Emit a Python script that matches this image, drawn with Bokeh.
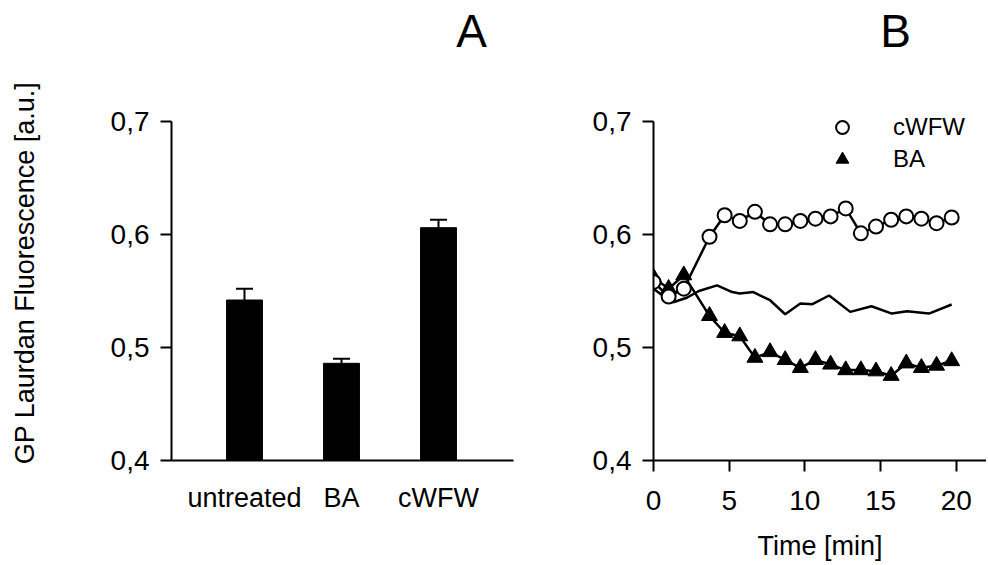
import numpy as np
from bokeh.plotting import figure
from bokeh.models import (Range1d, FixedTicker, Legend, LegendItem, Whisker,
                          ColumnDataSource, TeeHead, LinearAxis)
from bokeh.layouts import row
from bokeh.embed import file_html
from bokeh.resources import INLINE

FONT = "Liberation Sans"

# ---------------- data ----------------
# Panel A
categories = ["untreated", "BA", "cWFW"]
gp_mean = [0.542, 0.486, 0.606]
gp_err = [0.010, 0.004, 0.007]

# Panel B
time_min = [0, 1, 2, 3.7, 4.7, 5.7, 6.7, 7.7, 8.7, 9.7, 10.7, 11.7, 12.7, 13.7,
            14.7, 15.7, 16.7, 17.7, 18.7, 19.7]
gp_cwfw = [0.558, 0.545, 0.552, 0.598, 0.617, 0.612, 0.620, 0.609, 0.609, 0.612,
           0.614, 0.616, 0.623, 0.601, 0.607, 0.613, 0.616, 0.614, 0.610, 0.615]
gp_ba = [0.562, 0.552, 0.564, 0.528, 0.513, 0.510, 0.491, 0.496, 0.489, 0.482,
         0.489, 0.485, 0.480, 0.480, 0.479, 0.475, 0.486, 0.482, 0.484, 0.488]
ctrl_time = [0, 0.7, 1.3, 2.2, 3.0, 4.2, 5.2, 5.7, 6.6, 7.7, 8.7, 9.7, 10.5, 11.6,
             13.0, 14.4, 15.75, 16.75, 18.2, 19.7]
gp_ctrl = [0.552, 0.545, 0.540, 0.544, 0.550, 0.555, 0.549, 0.5477, 0.549, 0.5418,
           0.5294, 0.5389, 0.5383, 0.546, 0.5315, 0.5365, 0.530, 0.532, 0.530, 0.538]

y_ticks = [0.4, 0.5, 0.6, 0.7]
y_tick_labels = ["0,4", "0,5", "0,6", "0,7"]
x_ticks_b = [0, 5, 10, 15, 20]

# panel letters and where they sit along each panel's x axis
panel_letters = ["A", "B"]
panel_letter_pos = [3.34, 16.0]

Y_RANGE = (0.4, 0.7318)   # frame extends a bit above the 0,7 tick (axis bounded to 0.4-0.7)
TOP = 85
FRAME_H = 376
HEIGHT = 563


def style_axes(p):
    p.outline_line_color = None
    p.xgrid.visible = False
    p.ygrid.visible = False
    p.background_fill_color = "white"
    p.border_fill_color = "white"
    xa, ya = p.below[0], p.left[0]
    for ax in (xa, ya):
        ax.axis_line_width = 2
        ax.axis_line_color = "black"
        ax.major_tick_line_width = 2
        ax.major_tick_line_color = "black"
        ax.major_tick_in = 0
        ax.major_tick_out = 11
        ax.minor_tick_in = 0
        ax.minor_tick_out = 0
        ax.major_label_text_font = FONT
        ax.major_label_text_font_size = "28px"
        ax.major_label_text_color = "black"
        ax.axis_label_text_font = FONT
        ax.axis_label_text_font_style = "normal"
        ax.axis_label_text_color = "black"
    ya.ticker = FixedTicker(ticks=y_ticks)
    ya.major_label_overrides = {t: l for t, l in zip(y_ticks, y_tick_labels)}
    ya.major_label_standoff = 11
    ya.bounds = (y_ticks[0], y_ticks[-1])
    return xa, ya


def add_letter(p, letter, pos):
    ax = LinearAxis(ticker=FixedTicker(ticks=[pos]),
                    major_label_overrides={pos: letter},
                    axis_line_alpha=0, major_tick_out=0, major_tick_in=0,
                    minor_tick_out=0, minor_tick_in=0,
                    major_label_standoff=29,
                    major_label_text_font=FONT, major_label_text_font_size="46px",
                    major_label_text_color="black")
    p.add_layout(ax, "above")


# ---------------- panel A ----------------
xpos = list(range(1, len(categories) + 1))
pA = figure(width=580, height=HEIGHT, x_range=Range1d(0.2474, 3.773), y_range=Range1d(*Y_RANGE),
            output_backend="svg", toolbar_location=None,
            min_border_left=171, min_border_right=67, min_border_top=TOP,
            min_border_bottom=HEIGHT - TOP - FRAME_H)
xA, yA = style_axes(pA)
xA.ticker = FixedTicker(ticks=xpos)
xA.major_label_overrides = {x: c for x, c in zip(xpos, categories)}
xA.major_tick_out = 0
xA.major_label_text_font_size = "27px"
xA.major_label_standoff = 22
yA.axis_label = "GP Laurdan Fluorescence [a.u.]"
yA.axis_label_text_font_size = "27px"
yA.axis_label_standoff = 68
add_letter(pA, panel_letters[0], panel_letter_pos[0])

pA.vbar(x=xpos, top=gp_mean, bottom=0.4, width=0.37, fill_color="black", line_color="black")
err_src = ColumnDataSource(dict(x=xpos, lower=gp_mean,
                                upper=[m + e for m, e in zip(gp_mean, gp_err)]))
pA.add_layout(Whisker(base="x", lower="lower", upper="upper", source=err_src,
                      line_width=2, line_color="black",
                      upper_head=TeeHead(size=17, line_width=2, line_color="black"),
                      lower_head=None, level="overlay"))

# ---------------- panel B ----------------
pB = figure(width=406, height=HEIGHT, x_range=Range1d(0, 22.0), y_range=Range1d(*Y_RANGE),
            output_backend="svg", toolbar_location=None,
            min_border_left=73, min_border_right=0, min_border_top=TOP,
            min_border_bottom=HEIGHT - TOP - FRAME_H)
xB, yB = style_axes(pB)
xB.ticker = FixedTicker(ticks=x_ticks_b)
xB.major_label_standoff = 19
xB.axis_label = "Time [min]"
xB.axis_label_text_font_size = "27px"
xB.axis_label_standoff = 18
add_letter(pB, panel_letters[1], panel_letter_pos[1])

pB.line(ctrl_time, gp_ctrl, line_color="black", line_width=2.5)
pB.line(time_min, gp_ba, line_color="black", line_width=2.5)
pB.line(time_min, gp_cwfw, line_color="black", line_width=2.5)
r_t = pB.scatter(time_min, gp_ba, marker="triangle", size=16, fill_color="black",
                 line_color="black", line_width=1)
r_c = pB.scatter(time_min, gp_cwfw, marker="circle", size=14, fill_color="white",
                 line_color="black", line_width=2)

legend = Legend(items=[LegendItem(label="cWFW", renderers=[r_c]),
                       LegendItem(label="BA", renderers=[r_t])],
                location=(171, 285), orientation="vertical",
                glyph_width=36, glyph_height=32, label_height=32, label_standoff=33,
                spacing=0, padding=0, margin=0,
                border_line_alpha=0, background_fill_alpha=0,
                label_text_font=FONT, label_text_font_size="24px", label_text_color="black")
pB.add_layout(legend)

layout = row(pA, pB)
open("out.html", "w").write(file_html(layout, INLINE))
